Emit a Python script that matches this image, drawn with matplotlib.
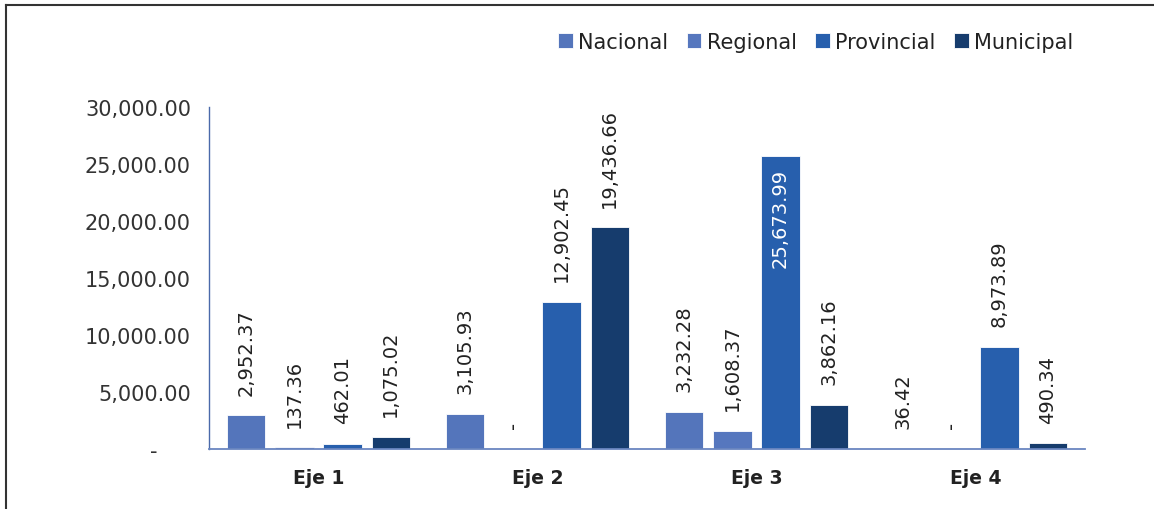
import matplotlib
matplotlib.use("Agg")
import matplotlib.pyplot as plt
from matplotlib.lines import Line2D
from matplotlib.ticker import FuncFormatter
import numpy as np

categories = ["Eje 1", "Eje 2", "Eje 3", "Eje 4"]
series_names = ["Nacional", "Regional", "Provincial", "Municipal"]
nacional = [2952.37, 3105.93, 3232.28, 36.42]
regional = [137.36, 0.0, 1608.37, 0.0]
provincial = [462.01, 12902.45, 25673.99, 8973.89]
municipal = [1075.02, 19436.66, 3862.16, 490.34]
yticks = [0, 5000, 10000, 15000, 20000, 25000, 30000]

colors = ["#5475BB", "#5677BE", "#275FAD", "#163C6D"]
FONT = ["DejaVu Sans"]
plt.rcParams["font.family"] = FONT

fig = plt.figure(figsize=(11.54, 5.10), dpi=100)
ax = fig.add_axes([209 / 1154, 1 - 450 / 510, 876 / 1154, 342 / 510])

x = np.arange(len(categories))
pitch = 0.22
width = 0.175
all_series = [nacional, regional, provincial, municipal]
for i, (name, vals, col) in enumerate(zip(series_names, all_series, colors)):
    pos = x + (i - 1.5) * pitch
    ax.bar(pos, vals, width=width, color=col, label=name,
           edgecolor="white", linewidth=0.6, zorder=2)
    for p, v in zip(pos, vals):
        txt = "-" if v == 0 else f"{v:,.2f}"
        if v > 24000:
            ax.annotate(txt, (p, v), xytext=(0, -8), textcoords="offset points",
                        rotation=90, ha="center", va="top", fontsize=14,
                        color="white")
        else:
            ax.annotate(txt, (p, v), xytext=(0, 15), textcoords="offset points",
                        rotation=90, ha="center", va="bottom", fontsize=14,
                        color="#222222")

ax.set_xlim(-0.5, 3.5)
ax.set_ylim(0, 30000)
ax.set_yticks(yticks)
ax.yaxis.set_major_formatter(
    FuncFormatter(lambda v, _: "-\u2007\u2007 " if v == 0 else f"{v:,.2f}"))
ax.set_xticks(x)
ax.set_xticklabels(categories, fontsize=13.5, fontweight="bold", color="#222222")
ax.tick_params(axis="y", length=0, labelsize=15, pad=13, labelcolor="#333333")
ax.tick_params(axis="x", length=0, pad=14)
for s in ["top", "right"]:
    ax.spines[s].set_visible(False)
ax.spines["left"].set_color("#4A6AAA")
ax.spines["bottom"].set_color("#6A86C0")
ax.spines["left"].set_linewidth(1.0)
ax.spines["bottom"].set_linewidth(1.3)

fig.legend(loc="center right", bbox_to_anchor=(1092 / 1154, 1 - 43 / 510),
           ncol=4, frameon=False, fontsize=15, handlelength=0.7,
           handleheight=0.7, handletextpad=0.25, columnspacing=0.9,
           labelcolor="#222222")

fig.add_artist(Line2D([6 / 1154, 1.0], [1 - 6 / 510, 1 - 6 / 510],
                      transform=fig.transFigure, color="#333333", linewidth=1.5))
fig.add_artist(Line2D([6 / 1154, 6 / 1154], [0, 1 - 6 / 510],
                      transform=fig.transFigure, color="#333333", linewidth=1.5))

fig.savefig("out.png", dpi=100)
